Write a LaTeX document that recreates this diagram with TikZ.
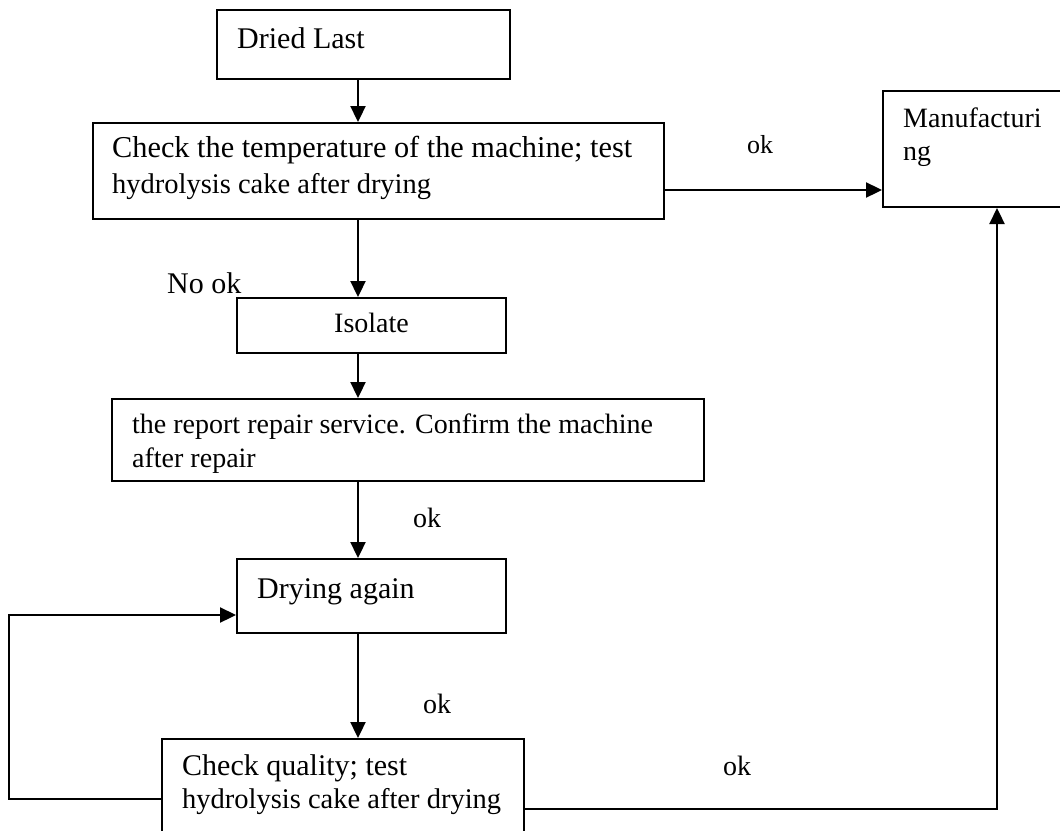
\documentclass[tikz,border=0pt]{standalone}
\usepackage{fontspec}
\setmainfont{Liberation Serif}
\usetikzlibrary{arrows.meta}

\tikzset{
  stepbox/.style={draw, line width=2pt, rectangle, inner sep=0pt, anchor=north west},
  big/.style={font=\fontsize{30}{36}\selectfont, inner sep=0pt, anchor=base west},
  mid/.style={font=\fontsize{28.5}{34}\selectfont, inner sep=0pt, anchor=base west},
  small/.style={font=\fontsize{28}{33}\selectfont, inner sep=0pt, anchor=base west},
  flow/.style={line width=2.3pt, -{Triangle[length=16pt,width=15pt]}},
}

\begin{document}
\begin{tikzpicture}[x=1pt,y=-1pt]
\useasboundingbox (0,0) rectangle (1060,830);
\clip (0,0) rectangle (1060,830);

% boxes
\node[stepbox, minimum width=293pt, minimum height=69pt] (dried) at (216,9) {};
\node[stepbox, minimum width=571pt, minimum height=96pt] (check) at (92,122) {};
\node[stepbox, minimum width=190pt, minimum height=116pt] (manu) at (882,90) {};
\node[stepbox, minimum width=269pt, minimum height=55pt] (isolate) at (236,297) {};
\node[stepbox, minimum width=592pt, minimum height=82pt] (repair) at (111,398) {};
\node[stepbox, minimum width=269pt, minimum height=74pt] (again) at (236,558) {};
\node[stepbox, minimum width=362pt, minimum height=120pt] (quality) at (161,738) {};

% box texts
\node[big] (tdried) at (237,48) {Dried Last};
\node[big, font=\fontsize{30.3}{36}\selectfont] (tcheck1) at (112,157) {Check the temperature of the machine; test};
\node[mid] (tcheck2) at (112,193) {hydrolysis cake after drying};
\node[small] (tmanu1) at (903,127) {Manufacturi};
\node[small] (tmanu2) at (903,160) {ng};
\node[small] (tiso) at (334,332) {Isolate};
\node[small] (trep1) at (132,433) {the report repair service. Confirm the machine};
\node[small] (trep2) at (132,467) {after repair};
\node[big] (tagain) at (257,598) {Drying again};
\node[big] (tqual1) at (182,775) {Check quality; test};
\node[mid] (tqual2) at (182,808) {hydrolysis cake after drying};

% connector labels
\node[small, font=\fontsize{26}{30}\selectfont] (ok1) at (747,153) {ok};
\node[big] (nook) at (167,293) {No ok};
\node[small] (ok2) at (413,527) {ok};
\node[small] (ok3) at (423,713) {ok};
\node[small] (ok4) at (723,775) {ok};

% turning points
\coordinate (loopbot) at (9,799);
\coordinate (looptop) at (9,615);
\coordinate (rightbot) at (997,809);

% connectors
\draw[flow] (dried.south -| 358,0) -- (check.north -| 358,0);
\draw[flow] (check.east |- 0,190) -- (manu.west |- 0,190);
\draw[flow] (check.south -| 358,0) -- (isolate.north -| 358,0);
\draw[flow] (isolate.south -| 358,0) -- (repair.north -| 358,0);
\draw[flow] (repair.south -| 358,0) -- (again.north -| 358,0);
\draw[flow] (again.south -| 358,0) -- (quality.north -| 358,0);
\draw[flow] (quality.west |- loopbot) -- (loopbot) -- (looptop) -- (again.west |- looptop);
\draw[flow] (quality.east |- rightbot) -- (rightbot) -- (manu.south -| rightbot);
\end{tikzpicture}
\end{document}
